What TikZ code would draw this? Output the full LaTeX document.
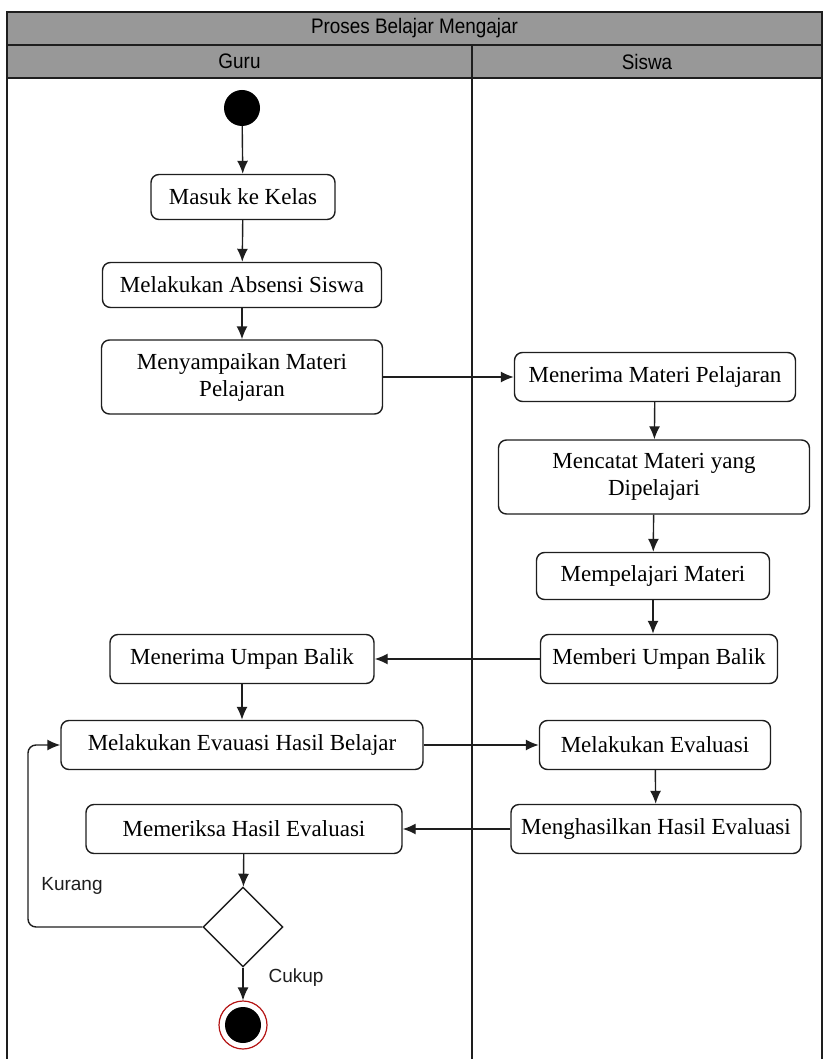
\documentclass[tikz,border=0pt]{standalone}
\usepackage{fontspec}
\setmainfont{Liberation Serif}
\newfontfamily\lanefont[FakeStretch=0.9]{Liberation Sans}
\newfontfamily\guardfont{Liberation Sans}
\usetikzlibrary{arrows.meta,shapes.geometric}

\definecolor{lanegray}{RGB}{152,152,152}
\definecolor{edgegray}{RGB}{30,30,30}
\definecolor{endred}{RGB}{180,20,20}

\tikzset{
  act/.style={draw=edgegray,line width=1.4pt,rounded corners=8pt,fill=white,
    align=center,font=\fontsize{23}{27}\selectfont,inner sep=0pt},
  flow/.style={-{Latex[length=13pt,width=11pt]},line width=1.4pt,draw=edgegray},
  lanetext/.style={font=\lanefont\fontsize{21}{24}\selectfont},
  guard/.style={font=\guardfont\fontsize{19}{22}\selectfont,text=edgegray}
}

\begin{document}
\begin{tikzpicture}[x=1pt,y=-1pt]
  \useasboundingbox (0,0) rectangle (825,1059);
  % swimlane frame
  \fill[lanegray] (7,12) rectangle (822,78);
  \draw[line width=1.4pt,edgegray] (7,1059) -- (7,12) -- (822,12) -- (822,1059);
  \draw[line width=1.4pt,edgegray] (7,45) -- (822,45);
  \draw[line width=1.4pt,edgegray] (7,78) -- (822,78);
  \draw[line width=1.4pt,edgegray] (472,45) -- (472,1059);
  \node[lanetext] (title) at (414.5,28.5) {Proses Belajar Mengajar};
  \node[lanetext] (guru) at (239.5,61.5) {Guru};
  \node[lanetext] (siswa) at (647,61.5) {Siswa};

  % Guru
  \node[circle,fill=black,minimum size=36pt,inner sep=0pt] (start) at (242,108) {};
  \node[act,minimum width=184pt,minimum height=45pt] (masuk) at (243,197) {Masuk ke Kelas};
  \node[act,minimum width=279pt,minimum height=45pt] (absen) at (242,285) {Melakukan Absensi Siswa};
  \node[act,minimum width=281pt,minimum height=74pt] (sampai) at (242,377) {Menyampaikan Materi\\Pelajaran};
  \node[act,minimum width=264pt,minimum height=49pt] (umpan) at (242,659) {Menerima Umpan Balik};
  \node[act,minimum width=362pt,minimum height=49pt] (evhasil) at (242,745) {Melakukan Evauasi Hasil Belajar};
  \node[act,minimum width=316pt,minimum height=49pt] (periksa) at (244,829) {Memeriksa Hasil Evaluasi};
  \node[diamond,draw=edgegray,line width=1.4pt,fill=white,minimum width=80pt,minimum height=80pt,inner sep=0pt] (cek) at (243,927) {};
  \node[circle,draw=endred,line width=1.2pt,minimum size=48pt,inner sep=0pt] (selesai) at (243,1025) {};
  \node[circle,fill=black,minimum size=36pt,inner sep=0pt] (selesaiin) at (243,1025) {};

  % Siswa
  \node[act,minimum width=281pt,minimum height=49pt] (terima) at (655,377) {Menerima Materi Pelajaran};
  \node[act,minimum width=311pt,minimum height=74pt] (catat) at (654,477) {Mencatat Materi yang\\Dipelajari};
  \node[act,minimum width=233pt,minimum height=47pt] (pelajari) at (653,576) {Mempelajari Materi};
  \node[act,minimum width=237pt,minimum height=49pt] (beri) at (659,659) {Memberi Umpan Balik};
  \node[act,minimum width=231pt,minimum height=49pt] (evaluasi) at (655,745) {Melakukan Evaluasi};
  \node[act,minimum width=290pt,minimum height=49pt] (hasil) at (656,829) {Menghasilkan Hasil Evaluasi};

  % alur
  \draw[flow] (start) -- (masuk);
  \draw[flow] (masuk) -- (absen);
  \draw[flow] (absen) -- (sampai);
  \draw[flow] (sampai) -- (terima);
  \draw[flow] (terima) -- (catat);
  \draw[flow] (catat) -- (pelajari);
  \draw[flow] (pelajari.south) -- (pelajari.south |- beri.north);
  \draw[flow] (beri) -- (umpan);
  \draw[flow] (umpan) -- (evhasil);
  \draw[flow] (evhasil) -- (evaluasi);
  \draw[flow] (evaluasi) -- (hasil);
  \draw[flow] (hasil) -- (periksa);
  \draw[flow] (periksa) -- (cek);
  \draw[flow] (cek) -- (selesai);
  \draw[flow,rounded corners=8pt] (cek.west) -- (28,927) -- (28,745) -- (evhasil.west);
  \node[guard] (kurang) at (72,886) {Kurang};
  \node[guard] (cukup) at (296,978) {Cukup};
\end{tikzpicture}
\end{document}
